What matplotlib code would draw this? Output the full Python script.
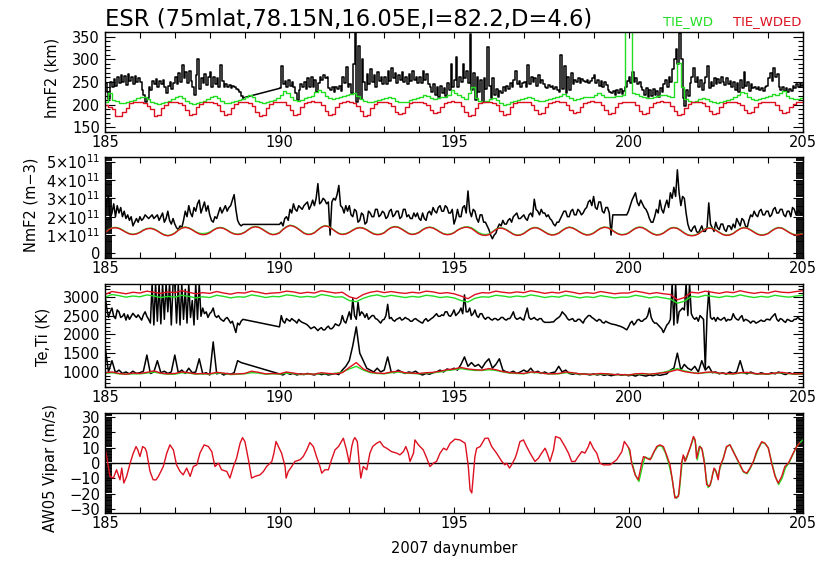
import numpy as np
import matplotlib
matplotlib.use("Agg")
import matplotlib.pyplot as plt
from matplotlib.ticker import MultipleLocator, FuncFormatter

plt.rcParams["font.family"] = ["DejaVu Sans"]
plt.rcParams["mathtext.fontset"] = "dejavusans"

RED = "#dd1020"
GREEN = "#22dd22"

# ---------------------------------------------------------------- time grids
# observations: two blocks with a data gap between the end of day 188 and day 190
fine_day_a = np.round(np.arange(185.0, 188.951, 0.05), 2)
fine_day_b = np.round(np.arange(190.0, 205.001, 0.05), 2)
ob_day_a = np.round(np.arange(185.0, 188.91, 0.1), 1)
ob_day_b = np.round(np.arange(190.0, 205.01, 0.1), 1)
# model runs (continuous)
mod_day = np.round(np.arange(185.0, 205.01, 0.1), 1)
mod_day_t = np.round(np.arange(185.0, 205.01, 0.2), 1)

# ---------------------------------------------------------------- hmF2 (km)
hmf2_obs_a = [
    248, 228, 212, 250, 238, 256, 242, 262, 248, 266, 250, 264, 244, 268, 252, 262, 246, 264, 250, 258,
    250, 232, 222, 205, 215, 240, 232, 252, 245, 256, 240, 252, 246, 255, 238, 226, 242, 250, 235, 248,
    262, 245, 270, 250, 288, 258, 272, 248, 275, 252, 240, 222, 265, 300, 235, 258, 248, 268, 244, 262,
    272, 240, 262, 245, 258, 238, 288, 252, 240, 246, 238, 244, 236, 242, 240, 235, 232, 228, 220, 215,
]
hmf2_obs_b = [
    236, 285, 245, 252, 240, 255, 242, 250, 238, 225, 210, 232, 245, 240, 250, 235, 258, 240, 262, 238,
    255, 228, 248, 262, 255, 265, 258, 262, 236, 232, 240, 228, 238, 235, 242, 230, 262, 248, 282, 240,
    245, 225, 290, 360, 205, 330, 212, 300, 250, 232, 268, 245, 278, 250, 265, 240, 272, 252, 262, 245,
    262, 245, 275, 252, 280, 258, 270, 248, 265, 255, 272, 250, 262, 245, 268, 252, 275, 255, 262, 248,
    262, 248, 275, 255, 268, 245, 240, 228, 245, 222, 238, 218, 242, 225, 236, 220, 248, 232, 290, 240,
    255, 305, 240, 262, 250, 290, 258, 275, 248, 355, 232, 270, 210, 262, 228, 255, 205, 258, 235, 328,
    242, 215, 258, 222, 235, 218, 230, 225, 238, 230, 242, 235, 248, 240, 255, 275, 245, 252, 240, 248,
    250, 240, 288, 245, 262, 250, 258, 242, 265, 248, 255, 245, 240, 236, 244, 238, 242, 235, 240, 232,
    228, 310, 235, 285, 225, 262, 232, 270, 245, 255, 250, 258, 248, 256, 252, 250, 255, 248, 252, 258,
    265, 248, 255, 242, 252, 238, 250, 244, 232, 228, 225, 230, 222, 232, 226, 234, 224, 230, 238, 252,
    262, 248, 272, 250, 258, 245, 250, 240, 232, 222, 236, 218, 232, 220, 234, 222, 230, 218, 236, 228,
    245, 255, 240, 262, 250, 278, 300, 322, 290, 357, 300, 215, 198, 232, 220, 248, 262, 280, 250, 262,
    240, 255, 232, 248, 262, 285, 236, 250, 242, 258, 245, 256, 248, 262, 250, 244, 258, 246, 252, 240,
    250, 232, 248, 228, 255, 236, 272, 242, 250, 230, 245, 236, 238, 234, 240, 232, 236, 230, 238, 242,
    258, 270, 252, 280, 262, 268, 238, 232, 240, 230, 236, 228, 234, 230, 242, 236, 245, 238, 248, 242,
    245,
]
hmf2_wd = [
    206, 225, 210, 208, 204, 203, 205, 208, 210, 214,
    218, 216, 212, 206, 203, 202, 204, 207, 209, 212,
    216, 219, 214, 208, 204, 202, 204, 207, 209, 212,
    216, 220, 215, 208, 204, 203, 205, 208, 210, 213,
    217, 221, 216, 209, 205, 204, 206, 209, 211, 215,
    222, 230, 226, 216, 210, 208, 210, 214, 216, 220,
    228, 233, 228, 220, 214, 212, 214, 218, 220, 222,
    224, 226, 220, 212, 208, 206, 207, 209, 210, 212,
    214, 218, 214, 209, 206, 205, 207, 210, 212, 215,
    218, 222, 219, 214, 212, 214, 216, 218, 222, 232,
    226, 222, 216, 212, 225, 240, 214, 208, 207, 209,
    212, 214, 210, 203, 200, 202, 205, 208, 210, 212,
    214, 216, 214, 210, 208, 209, 211, 213, 214, 216,
    220, 224, 220, 214, 211, 212, 214, 216, 217, 218,
    222, 226, 222, 218, 216, 217, 219, 220, 222, 365,
    365, 226, 224, 220, 216, 214, 215, 217, 219, 221,
    222, 220, 216, 250, 292, 240, 212, 208, 207, 209,
    212, 215, 212, 208, 205, 204, 206, 209, 211, 213,
    216, 222, 228, 226, 218, 212, 211, 213, 215, 218,
    220, 224, 222, 226, 230, 220, 214, 212, 213, 215,
    216,
]
hmf2_wded = [
    200, 196, 190, 176, 175, 185, 193, 203, 205, 206,
    205, 203, 198, 190, 176, 178, 192, 200, 205, 207,
    206, 204, 200, 188, 178, 180, 194, 202, 206, 207,
    205, 204, 199, 186, 177, 180, 193, 201, 205, 206,
    206, 204, 198, 185, 176, 178, 192, 202, 206, 207,
    207, 205, 200, 188, 178, 180, 195, 203, 207, 208,
    207, 205, 199, 187, 177, 179, 194, 203, 206, 208,
    206, 204, 198, 186, 176, 178, 193, 202, 205, 207,
    206, 203, 197, 185, 180, 182, 194, 203, 206, 207,
    206, 204, 199, 188, 181, 183, 195, 204, 207, 208,
    207, 205, 198, 185, 175, 178, 193, 203, 206, 207,
    206, 204, 199, 187, 178, 180, 194, 203, 206, 207,
    206, 205, 200, 189, 180, 182, 195, 204, 207, 208,
    207, 205, 200, 188, 181, 183, 195, 204, 207, 208,
    207, 205, 199, 188, 180, 182, 194, 203, 206, 207,
    207, 205, 199, 187, 180, 182, 195, 204, 207, 208,
    207, 205, 198, 186, 178, 180, 193, 202, 206, 207,
    206, 204, 198, 187, 180, 182, 194, 203, 206, 207,
    206, 204, 199, 188, 181, 183, 195, 203, 206, 207,
    206, 205, 199, 188, 181, 183, 194, 202, 205, 206,
    206,
]

# ---------------------------------------------------------------- NmF2 (1e11 m^-3)
nmf2_obs_a = [
    2.3, 2.9, 3.1, 1.9, 2.2, 2.7, 2.0, 2.6, 2.2, 2.5, 2.0, 2.3, 1.9, 2.1, 1.8, 2.0, 1.5, 1.7, 1.9, 1.7,
    2.0, 1.8, 1.9, 2.1, 2.0, 1.9, 2.0, 2.1, 1.9, 2.0, 2.1, 1.8, 2.0, 2.2, 1.7, 1.9, 2.3, 1.8, 1.6, 1.9,
    1.6, 1.4, 1.3, 1.5, 1.4, 1.8, 2.3, 2.0, 2.6, 2.2, 2.0, 2.5, 2.3, 2.7, 2.9, 2.2, 2.5, 2.8, 2.3, 2.6,
    2.1, 1.8, 1.7, 2.0, 1.9, 2.2, 2.5, 2.2, 2.4, 2.6, 2.3, 2.5, 2.6, 2.9, 3.2, 2.4, 1.8, 1.6, 1.5, 1.58,
]
nmf2_obs_b = [
    1.58, 1.7, 1.5, 1.9, 2.0, 1.8, 2.4, 2.2, 2.7, 2.4, 2.3, 2.6, 2.5, 2.4, 2.6, 2.7, 2.8, 2.4, 2.6, 2.9,
    2.6, 3.0, 3.8, 2.7, 2.8, 3.0, 2.9, 2.7, 2.8, 1.0, 2.8, 3.0, 2.9, 3.2, 3.7, 2.6, 2.5, 2.2, 2.6, 2.3,
    2.6, 2.1, 2.0, 2.4, 2.3, 1.7, 1.8, 2.2, 2.1, 1.6, 1.7, 2.3, 2.2, 2.0, 2.0, 2.4, 2.4, 2.0, 2.1, 2.3,
    2.2, 1.9, 2.0, 2.3, 2.4, 2.0, 2.1, 2.3, 2.3, 1.9, 2.0, 2.4, 2.4, 2.0, 2.1, 1.9, 1.9, 2.2, 2.0, 2.2,
    1.9, 1.8, 2.2, 1.9, 1.8, 2.2, 2.3, 2.1, 2.5, 2.3, 2.2, 2.5, 2.6, 2.3, 2.3, 2.6, 2.5, 2.2, 2.2, 2.4,
    1.6, 1.9, 2.4, 2.0, 2.0, 2.5, 2.6, 2.2, 3.4, 2.3, 2.0, 2.4, 2.3, 1.9, 1.7, 2.1, 2.1, 1.7, 1.7, 1.5,
    1.3, 1.0, 0.8, 1.0, 1.1, 1.4, 1.6, 1.5, 1.8, 1.6, 1.6, 1.8, 1.9, 1.7, 2.0, 2.1, 2.2, 1.9, 1.9, 2.0,
    2.1, 1.9, 1.8, 2.1, 2.2, 2.0, 2.95, 2.4, 2.3, 2.1, 2.4, 2.2, 2.2, 2.0, 2.1, 1.9, 1.8, 1.6, 1.5, 1.7,
    1.7, 1.9, 2.1, 2.3, 2.3, 2.0, 2.0, 2.3, 2.4, 2.1, 2.1, 2.4, 2.3, 2.1, 2.2, 2.4, 2.5, 2.8, 2.9, 2.6,
    3.1, 2.5, 2.4, 2.8, 2.8, 2.3, 2.2, 2.5, 2.5, 2.2, 1.0, 2.1, 2.1, 2.1, 2.1, 2.1, 2.1, 2.1, 2.1, 2.1,
    2.3, 2.6, 2.9, 3.1, 3.3, 2.8, 2.6, 2.9, 2.7, 2.5, 2.4, 2.2, 1.9, 1.7, 1.7, 2.0, 2.4, 2.2, 2.9, 2.4,
    2.2, 2.6, 2.9, 2.5, 3.3, 3.0, 3.6, 3.1, 4.55, 3.3, 2.6, 3.1, 3.0, 2.2, 1.6, 1.3, 1.2, 1.4, 1.5, 1.2,
    1.1, 1.3, 1.5, 1.2, 1.2, 1.4, 2.75, 1.6, 1.4, 1.2, 1.7, 1.4, 1.3, 1.6, 1.6, 1.3, 1.2, 1.5, 1.5, 1.3,
    1.6, 1.4, 1.9, 1.7, 1.5, 1.9, 1.8, 1.5, 1.4, 1.8, 2.1, 2.0, 2.3, 2.1, 2.0, 2.3, 2.4, 2.1, 2.1, 2.3,
    2.3, 2.0, 2.1, 2.4, 2.5, 2.2, 2.2, 2.4, 2.4, 2.1, 2.0, 2.3, 2.3, 2.0, 2.5, 2.4, 2.1, 2.3, 2.3, 2.1,
    2.2,
]
nmf2_wd = [
    1.14, 1.30, 1.40, 1.42, 1.38, 1.28, 1.17, 1.08, 1.05, 1.08,
    1.16, 1.28, 1.36, 1.38, 1.34, 1.24, 1.12, 1.02, 0.98, 1.02,
    1.12, 1.28, 1.40, 1.44, 1.40, 1.30, 1.18, 1.10, 1.08, 1.10,
    1.16, 1.28, 1.38, 1.42, 1.38, 1.28, 1.16, 1.08, 1.05, 1.08,
    1.16, 1.30, 1.42, 1.47, 1.44, 1.34, 1.22, 1.10, 1.04, 1.06,
    1.14, 1.32, 1.46, 1.54, 1.50, 1.40, 1.26, 1.12, 1.05, 1.06,
    1.14, 1.30, 1.44, 1.52, 1.48, 1.36, 1.22, 1.10, 1.05, 1.08,
    1.16, 1.28, 1.38, 1.42, 1.39, 1.30, 1.18, 1.08, 1.04, 1.06,
    1.14, 1.30, 1.42, 1.47, 1.44, 1.34, 1.22, 1.10, 1.05, 1.08,
    1.16, 1.30, 1.40, 1.44, 1.40, 1.30, 1.18, 1.08, 1.04, 1.06,
    1.14, 1.28, 1.38, 1.44, 1.45, 1.40, 1.28, 1.14, 1.06, 1.03,
    1.06, 1.18, 1.32, 1.40, 1.38, 1.30, 1.18, 1.06, 1.00, 1.02,
    1.10, 1.24, 1.36, 1.42, 1.40, 1.30, 1.18, 1.07, 1.02, 1.04,
    1.12, 1.26, 1.38, 1.44, 1.40, 1.30, 1.18, 1.08, 1.02, 1.04,
    1.12, 1.26, 1.38, 1.44, 1.42, 1.32, 1.19, 1.08, 1.03, 1.05,
    1.12, 1.26, 1.38, 1.44, 1.42, 1.32, 1.19, 1.08, 1.02, 1.04,
    1.12, 1.26, 1.38, 1.42, 1.38, 1.26, 1.12, 1.02, 0.98, 1.00,
    1.08, 1.22, 1.34, 1.40, 1.37, 1.28, 1.16, 1.05, 1.00, 1.02,
    1.10, 1.24, 1.36, 1.42, 1.39, 1.29, 1.17, 1.06, 1.01, 1.03,
    1.10, 1.24, 1.36, 1.42, 1.39, 1.28, 1.16, 1.06, 1.02, 1.04,
    1.08,
]
nmf2_wded = [
    1.12, 1.28, 1.38, 1.40, 1.36, 1.26, 1.15, 1.06, 1.03, 1.06,
    1.14, 1.26, 1.34, 1.36, 1.32, 1.22, 1.10, 1.00, 0.96, 1.00,
    1.10, 1.26, 1.38, 1.42, 1.38, 1.28, 1.16, 1.06, 1.02, 1.04,
    1.12, 1.26, 1.36, 1.40, 1.36, 1.26, 1.14, 1.06, 1.03, 1.06,
    1.14, 1.28, 1.40, 1.45, 1.42, 1.32, 1.20, 1.08, 1.02, 1.04,
    1.12, 1.30, 1.44, 1.52, 1.48, 1.38, 1.24, 1.10, 1.03, 1.04,
    1.12, 1.28, 1.42, 1.50, 1.46, 1.34, 1.20, 1.08, 1.03, 1.06,
    1.14, 1.26, 1.36, 1.40, 1.37, 1.28, 1.16, 1.06, 1.02, 1.04,
    1.12, 1.28, 1.40, 1.45, 1.42, 1.32, 1.20, 1.08, 1.03, 1.06,
    1.14, 1.28, 1.38, 1.42, 1.38, 1.28, 1.16, 1.06, 1.02, 1.04,
    1.12, 1.26, 1.36, 1.42, 1.42, 1.36, 1.22, 1.08, 1.00, 0.98,
    1.02, 1.16, 1.30, 1.38, 1.36, 1.28, 1.16, 1.04, 0.98, 1.00,
    1.08, 1.22, 1.34, 1.40, 1.38, 1.28, 1.16, 1.05, 1.00, 1.02,
    1.10, 1.24, 1.36, 1.42, 1.38, 1.28, 1.16, 1.06, 1.00, 1.02,
    1.10, 1.24, 1.36, 1.42, 1.40, 1.30, 1.17, 1.06, 1.01, 1.03,
    1.10, 1.24, 1.36, 1.42, 1.40, 1.30, 1.17, 1.06, 1.00, 1.02,
    1.10, 1.24, 1.36, 1.40, 1.36, 1.24, 1.10, 1.00, 0.96, 0.98,
    1.06, 1.20, 1.32, 1.38, 1.35, 1.26, 1.14, 1.03, 0.98, 1.00,
    1.08, 1.22, 1.34, 1.40, 1.37, 1.27, 1.15, 1.04, 0.99, 1.01,
    1.08, 1.22, 1.34, 1.40, 1.37, 1.26, 1.14, 1.04, 1.00, 1.02,
    1.06,
]

# ---------------------------------------------------------------- Te, Ti (K)
te_obs_a = [
    3050, 2700, 2450, 2600, 2700, 2480, 2420, 2650, 2600, 2450, 2480, 2550, 2380, 2520, 2400, 2480, 2560, 2500, 2450, 2520,
    2450, 2380, 2520, 2600, 2480, 2400, 2300, 3340, 2250, 3340, 2350, 3340, 2280, 3340, 2400, 3340, 2600, 3340, 2250, 3340,
    3340, 2300, 3340, 2250, 3340, 2400, 3200, 2300, 3340, 2450, 2900, 2250, 3340, 2400, 3340, 2480, 2700, 2550, 2600, 2450,
    2550, 2600, 2700, 2500, 2450, 2500, 2420, 2380, 2350, 2420, 2450, 2380, 2300, 2350, 2200, 2050, 2300, 2250, 2350, 2400,
]
te_obs_b = [
    2200, 2500, 2350, 2300, 2420, 2380, 2350, 2420, 2380, 2350, 2300, 2400, 2350, 2320, 2300, 2280, 2250, 2200, 2150, 2180,
    2200, 2150, 2100, 2150, 2180, 2120, 2120, 2180, 2220, 2150, 2150, 2200, 2280, 2250, 2230, 2300, 2500, 2350, 2300, 2450,
    2600, 2400, 2950, 2500, 2400, 2850, 2500, 2600, 2550, 2450, 2550, 2400, 2450, 2500, 2500, 2420, 2400, 2350, 2300, 2380,
    2400, 2500, 2800, 2420, 2450, 2380, 2350, 2400, 2420, 2450, 2380, 2400, 2450, 2420, 2400, 2350, 2350, 2400, 2420, 2380,
    2350, 2320, 2300, 2380, 2420, 2350, 2380, 2420, 2450, 2500, 2550, 2480, 2480, 2520, 2500, 2600, 2600, 2500, 2480, 2550,
    2650, 2500, 2550, 2600, 2700, 2550, 3050, 2600, 2600, 2700, 2500, 2550, 2650, 2500, 2450, 2550, 2550, 2450, 2400, 2450,
    2450, 2400, 2380, 2420, 2420, 2380, 2400, 2450, 2450, 2400, 2380, 2420, 2420, 2500, 2600, 2450, 2400, 2420, 2450, 2400,
    2380, 2550, 2700, 2450, 2400, 2420, 2450, 2400, 2380, 2420, 2420, 2350, 2320, 2320, 2320, 2320, 2330, 2330, 2380, 2420,
    2450, 2500, 2600, 2550, 2500, 2420, 2380, 2400, 2420, 2350, 2350, 2400, 2400, 2350, 2300, 2400, 2450, 2500, 2500, 2450,
    2420, 2380, 2350, 2400, 2380, 2320, 2300, 2350, 2320, 2300, 2280, 2270, 2260, 2250, 2230, 2220, 2200, 2180, 2150, 2120,
    2200, 2300, 2350, 2250, 2300, 2380, 2400, 2350, 2350, 2400, 2420, 2500, 2700, 2450, 2350, 2300, 2300, 2250, 2200, 2150,
    2050, 2150, 2250, 2300, 2400, 3340, 2250, 3340, 2300, 2600, 2650, 2700, 2650, 3340, 2500, 3340, 2550, 2450, 2400, 2450,
    2350, 2500, 2450, 2400, 1100, 2500, 3150, 2450, 2400, 2450, 2350, 2450, 2400, 2380, 2420, 2450, 2350, 2400, 2380, 2400,
    2550, 2450, 2400, 2380, 2450, 2500, 2350, 2400, 2380, 2350, 2300, 2350, 2350, 2300, 2320, 2350, 2380, 2350, 2350, 2400,
    2400, 2380, 2450, 2500, 2550, 2400, 2350, 2420, 2400, 2350, 2320, 2400, 2380, 2350, 2350, 2400, 2400, 2450, 2420, 2380,
    2380,
]
ti_obs_a = [
    1700, 1000, 1300, 980, 1050, 960, 1000, 950, 1020, 960,
    980, 1020, 1450, 960, 1000, 1300, 980, 1020, 960, 1000,
    1450, 980, 1050, 960, 1100, 980, 1000, 1350, 950, 980,
    920, 1800, 950, 980, 920, 960, 940, 980, 1300, 1250,
]
ti_obs_b = [
    950, 920, 980, 940, 960, 920, 950, 930, 960, 940,
    920, 960, 930, 950, 920, 940, 960, 930, 1050, 1150,
    1300, 1700, 2200, 1500, 1300, 1100, 1050, 1000, 1100, 1000,
    1050, 1400, 1000, 980, 1050, 1000, 960, 1000, 980, 1020,
    950, 920, 960, 940, 980, 1000, 1050, 1000, 1080, 1050,
    1100, 1050, 1200, 1400, 1150, 1250, 1150, 1200, 1100, 1250,
    1350, 1100, 1200, 1350, 1050, 1000, 980, 1020, 960, 1000,
    1050, 1000, 1100, 980, 1020, 960, 1000, 950, 980, 1000,
    1150, 1000, 1050, 960, 940, 960, 930, 950, 940, 920,
    950, 920, 940, 910, 930, 900, 920, 940, 910, 930,
    900, 920, 890, 930, 910, 890, 920, 900, 930, 910,
    930, 950, 1050, 1100, 1500, 1050, 1200, 1100, 1050, 1150,
    1000, 1300, 1050, 1150, 980, 1000, 950, 980, 940, 1000,
    960, 1000, 1300, 980, 950, 1000, 960, 940, 980, 950,
    940, 980, 950, 1000, 960, 930, 980, 950, 940, 960,
    950,
]
te_wd = [
    2990, 3060, 3030, 2990, 3020, 3000, 3050, 3020, 2980, 3010,
    2990, 3040, 3010, 2970, 3000, 2980, 3040, 3010, 2970, 3000,
    2990, 3050, 3020, 2980, 3010, 3000, 3050, 3030, 2990, 3010,
    2990, 3060, 3030, 2990, 3000, 2900, 2870, 2960, 3020, 3050,
    3000, 3040, 3010, 2980, 3010, 2990, 3040, 3020, 2980, 3000,
    2970, 2900, 2860, 2960, 3000, 2990, 3040, 3020, 2990, 3020,
    3000, 3050, 3020, 2980, 3010, 2990, 3040, 3010, 2970, 3000,
    2980, 3030, 3000, 2970, 2990, 2990, 3040, 3010, 2970, 3000,
    2970, 2940, 2830, 2880, 3010, 2990, 3040, 3010, 2980, 3020,
    3000, 3050, 3010, 2980, 3010, 2990, 3040, 3010, 2990, 3020,
    3040,
]
te_wded = [
    3060, 3140, 3110, 3080, 3120, 3100, 3150, 3120, 3090, 3130,
    3110, 3160, 3120, 3080, 3110, 3090, 3140, 3100, 3070, 3110,
    3100, 3150, 3120, 3080, 3100, 3110, 3150, 3130, 3090, 3120,
    3100, 3160, 3130, 3100, 3120, 3000, 2950, 3060, 3120, 3150,
    3110, 3140, 3110, 3090, 3120, 3100, 3150, 3130, 3090, 3110,
    3080, 3020, 2950, 3060, 3110, 3100, 3150, 3120, 3100, 3130,
    3110, 3160, 3130, 3090, 3120, 3100, 3150, 3120, 3080, 3110,
    3090, 3140, 3110, 3080, 3100, 3100, 3150, 3120, 3080, 3110,
    3080, 3060, 2920, 2980, 3120, 3100, 3150, 3120, 3090, 3130,
    3110, 3160, 3120, 3090, 3120, 3100, 3150, 3120, 3110, 3140,
    3160,
]
ti_wd = [
    960, 980, 950, 940, 950, 950, 970, 1000, 960, 940,
    940, 980, 970, 940, 950, 940, 970, 960, 930, 940,
    950, 980, 970, 940, 950, 940, 970, 960, 930, 940,
    940, 960, 950, 960, 1000, 1080, 1150, 1050, 980, 960,
    950, 980, 1000, 970, 960, 950, 970, 980, 1000, 1040,
    1060, 1090, 1060, 1040, 1040, 1060, 1040, 1000, 970, 960,
    950, 990, 980, 960, 945, 950, 980, 970, 945, 935,
    930, 950, 945, 930, 925, 920, 940, 950, 940, 955,
    990, 1040, 1090, 1030, 990, 960, 980, 990, 965, 955,
    945, 970, 980, 955, 945, 945, 965, 980, 955, 945,
    945,
]
ti_wded = [
    980, 1000, 960, 940, 970, 960, 990, 1030, 970, 950,
    960, 1000, 980, 950, 960, 950, 990, 970, 940, 950,
    960, 1020, 990, 950, 960, 950, 1000, 970, 940, 950,
    940, 980, 960, 950, 980, 1120, 1250, 1080, 1000, 970,
    960, 1000, 1020, 980, 970, 960, 980, 990, 1020, 1060,
    1080, 1120, 1080, 1060, 1050, 1090, 1060, 1010, 980, 970,
    960, 1000, 990, 960, 950, 960, 1000, 980, 950, 940,
    940, 960, 950, 930, 930, 920, 950, 960, 940, 960,
    980, 1010, 1060, 1010, 980, 960, 990, 1000, 970, 960,
    950, 980, 990, 960, 950, 950, 970, 990, 960, 950,
    950,
]

# ---------------------------------------------------------------- Vipar (m/s)
vipar_wded_day = [
    185.00, 185.05, 185.14, 185.24, 185.33, 185.43, 185.48, 185.54, 185.62, 185.72,
    185.81, 185.89, 185.94, 186.00, 186.08, 186.15, 186.19, 186.29, 186.38, 186.46,
    186.53, 186.67, 186.77, 186.86, 186.96, 187.05, 187.15, 187.24, 187.34, 187.44,
    187.53, 187.63, 187.72, 187.84, 187.96, 188.06, 188.10, 188.15, 188.25, 188.34,
    188.49, 188.58, 188.68, 188.77, 188.87, 188.94, 189.01, 189.11, 189.20, 189.30,
    189.44, 189.54, 189.63, 189.78, 189.84, 189.90, 189.97, 190.06, 190.16, 190.19,
    190.25, 190.35, 190.44, 190.59, 190.68, 190.78, 190.87, 190.97, 191.06, 191.16,
    191.21, 191.30, 191.40, 191.49, 191.59, 191.69, 191.83, 191.92, 192.00, 192.07,
    192.12, 192.16, 192.23, 192.29, 192.33, 192.40, 192.50, 192.59, 192.67, 192.78,
    192.88, 192.98, 193.07, 193.21, 193.36, 193.45, 193.55, 193.62, 193.69, 193.74,
    193.84, 193.88, 193.98, 194.12, 194.22, 194.31, 194.41, 194.50, 194.60, 194.70,
    194.79, 194.89, 195.03, 195.17, 195.32, 195.36, 195.41, 195.46, 195.51, 195.55,
    195.60, 195.65, 195.75, 195.89, 195.98, 196.08, 196.22, 196.37, 196.46, 196.51,
    196.59, 196.65, 196.75, 196.80, 196.89, 196.99, 197.08, 197.18, 197.32, 197.42,
    197.51, 197.61, 197.67, 197.75, 197.85, 197.91, 198.04, 198.18, 198.28, 198.37,
    198.47, 198.56, 198.66, 198.75, 198.85, 198.90, 198.99, 199.09, 199.18, 199.28,
    199.47, 199.66, 199.81, 199.88, 199.95, 200.04, 200.09, 200.19, 200.28, 200.38,
    200.43, 200.52, 200.62, 200.71, 200.81, 200.90, 201.00, 201.09, 201.19, 201.27,
    201.33, 201.43, 201.48, 201.52, 201.57, 201.62, 201.69, 201.76, 201.86, 201.91,
    201.95, 202.03, 202.10, 202.14, 202.19, 202.24, 202.32, 202.38, 202.45, 202.51,
    202.57, 202.62, 202.72, 202.81, 202.91, 203.00, 203.10, 203.20, 203.29, 203.39,
    203.48, 203.58, 203.67, 203.82, 203.91, 204.01, 204.10, 204.20, 204.29, 204.39,
    204.48, 204.58, 204.72, 204.82, 204.90,
]
vipar_wded = [
    9.6, 4.2, -8.7, -9.8, -4.4, -10.9, -3.3, -13.0, -8.7, -0.1,
    6.4, 10.7, 8.5, 4.2, 10.7, 9.6, 7.4, -5.5, -10.9, -11.0,
    -8.7, -2.3, 6.4, 11.8, 8.5, -1.2, -5.5, -7.7, -3.3, -8.7,
    -2.3, -1.2, 6.4, 11.8, 10.7, 7.4, 3.1, -2.3, -0.1, -4.4,
    -5.5, -9.8, -2.3, 3.1, 12.8, 16.5, 13.9, 2.1, -9.8, -8.7,
    -7.7, -5.5, -2.3, 1.0, 6.4, 14.0, 10.7, 6.4, -2.3, -9.8,
    -5.5, -2.3, 1.0, 2.1, 4.2, 8.5, 13.3, 10.7, 4.2, -2.3,
    -6.6, -4.4, -4.4, 2.1, 8.5, 10.7, 16.1, 8.5, -0.1, 10.7,
    15.0, 16.5, 13.9, -1.2, -9.8, -2.3, -4.4, 6.4, 10.7, 12.8,
    14.0, 10.7, 9.6, 7.4, 6.4, 5.3, 7.4, 10.7, 6.4, 1.0,
    6.4, 15.0, 11.8, 8.5, 3.1, -2.3, -0.1, 1.0, 6.4, 9.6,
    8.5, 12.8, 15.5, 15.0, 12.8, 6.4, -2.3, -17.4, -19.5, -8.7,
    4.2, 9.6, 10.7, 16.1, 16.1, 10.7, 6.4, 1.0, -1.2, -0.1,
    -3.3, -1.2, 3.1, 6.4, 13.9, 15.0, 10.7, 6.4, 1.0, 3.1,
    6.4, 9.6, 6.4, 1.0, 8.5, 17.2, 16.1, 10.7, 6.4, 1.0,
    1.0, 4.2, 7.4, 6.4, 10.7, 13.9, 9.6, 6.4, -0.1, -1.2,
    -1.2, 2.1, 7.4, 14.0, 11.8, 8.5, -0.1, -7.7, -10.9, -0.1,
    4.2, 3.1, 2.1, 6.4, 10.7, 11.8, 10.7, 5.3, -1.2, -13.1,
    -22.8, -21.7, -10.9, -0.1, 5.3, 1.0, 5.3, 9.6, 17.2, 15.0,
    3.1, 10.7, 9.6, 4.2, -2.3, -14.1, -15.2, -10.9, -3.3, -5.5,
    -10.9, -2.3, 3.1, 10.7, 11.8, 7.4, 3.1, -1.2, -5.5, -6.6,
    -3.3, 1.0, 7.4, 13.9, 12.8, 9.6, -0.1, -8.7, -13.1, -8.7,
    -2.3, -0.1, 6.4, 10.7, 13.0,
]
vipar_wd_day = [
    200.00, 200.08, 200.20, 200.30, 200.40, 200.47, 200.55, 200.65, 200.75, 200.85,
    200.95, 201.05, 201.15, 201.25, 201.32, 201.38, 201.45, 201.50, 201.55, 201.60,
    201.65, 201.72, 201.80, 201.87, 201.93, 201.97, 202.05, 202.12, 202.17, 202.22,
    202.28, 202.35, 202.42, 202.48, 202.55, 202.60, 202.70, 202.80, 202.90, 203.00,
    203.10, 203.20, 203.30, 203.40, 203.50, 203.60, 203.70, 203.80, 203.90, 204.00,
    204.10, 204.20, 204.30, 204.40, 204.50, 204.60, 204.70, 204.80, 204.90, 205.00,
]
vipar_wd = [
    10, 2, -8, -12, -2, 4, 3, 3, 8, 11,
    11, 7, 0, -10, -21, -23, -20, -8, 3, 4,
    2, 7, 12, 17, 12, 2, 11, 8, 2, -9,
    -16, -14, -6, -4, -9, -5, 2, 10, 12, 8,
    3, -2, -6, -7, -3, 2, 8, 13, 13, 10,
    1, -8, -14, -10, -3, 0, 5, 10, 13, 15,
]

# ---------------------------------------------------------------- figure
fig = plt.figure(figsize=(8.31, 5.62), dpi=100)
W, H = 831.0, 562.0


def add_panel(top_px, bot_px):
    return fig.add_axes([105 / W, 1 - bot_px / H, 698 / W, (bot_px - top_px) / H])


ax1 = add_panel(32, 132)
ax2 = add_panel(157, 258)
ax3 = add_panel(284, 387)
ax4 = add_panel(413, 513)

LW = 1.0
LWK = 1.1

# hmF2: stepped observation blocks joined straight across the data gap
ax1.plot(fine_day_a, hmf2_obs_a, color="black", lw=LWK, drawstyle="steps-post")
ax1.plot([fine_day_a[-1], fine_day_b[0]], [hmf2_obs_a[-1], hmf2_obs_b[0]], color="black", lw=LWK)
ax1.plot(fine_day_b, hmf2_obs_b, color="black", lw=LWK, drawstyle="steps-post")
ax1.plot(mod_day, hmf2_wd, color=GREEN, lw=LW, drawstyle="steps-post")
ax1.plot(mod_day, hmf2_wded, color=RED, lw=LW, drawstyle="steps-post")
ax1.set_ylim(140, 360)
ax1.yaxis.set_major_locator(MultipleLocator(50))
ax1.yaxis.set_minor_locator(MultipleLocator(10))

# NmF2
fine_days = np.concatenate([fine_day_a, fine_day_b])
ax2.plot(fine_days, nmf2_obs_a + nmf2_obs_b, color="black", lw=LWK)
ax2.plot(mod_day, nmf2_wd, color=GREEN, lw=LW)
ax2.plot(mod_day, nmf2_wded, color=RED, lw=LW)
ax2.set_ylim(-0.245, 5.245)
ax2.yaxis.set_major_locator(MultipleLocator(1))
ax2.yaxis.set_minor_locator(MultipleLocator(0.1))


def nm_label(v, pos):
    n = int(round(v))
    if n == 0:
        return "0"
    return r"$%d{\times}10^{11}$" % n


ax2.yaxis.set_major_formatter(FuncFormatter(nm_label))

# Te, Ti
ob_days = np.concatenate([ob_day_a, ob_day_b])
ax3.plot(fine_days, te_obs_a + te_obs_b, color="black", lw=LWK)
ax3.plot(ob_days, ti_obs_a + ti_obs_b, color="black", lw=LWK)
ax3.plot(mod_day_t, te_wd, color=GREEN, lw=LW)
ax3.plot(mod_day_t, ti_wd, color=GREEN, lw=LW)
ax3.plot(mod_day_t, te_wded, color=RED, lw=LW)
ax3.plot(mod_day_t, ti_wded, color=RED, lw=LW)
ax3.set_ylim(600, 3340)
ax3.yaxis.set_major_locator(MultipleLocator(500))
ax3.yaxis.set_minor_locator(MultipleLocator(100))

# Vipar
ax4.axhline(0, color="black", lw=1.0)
ax4.plot(vipar_wd_day, vipar_wd, color=GREEN, lw=LW)
ax4.plot(vipar_wded_day, vipar_wded, color=RED, lw=LW)
ax4.set_ylim(-32.5, 32.5)
ax4.yaxis.set_major_locator(MultipleLocator(10))
ax4.yaxis.set_minor_locator(MultipleLocator(1))

for ax in (ax1, ax2, ax3, ax4):
    ax.set_xlim(185, 205)
    ax.xaxis.set_major_locator(MultipleLocator(5))
    ax.xaxis.set_minor_locator(MultipleLocator(1))
    ax.tick_params(which="both", direction="in", top=True, right=True,
                   labelsize=10.5, width=0.8, color="black")
    ax.tick_params(axis="x", which="both", length=4, pad=2.5)
    ax.tick_params(axis="y", which="major", length=7.5, pad=3.5)
    ax.tick_params(axis="y", which="minor", length=3.5)
    for s in ax.spines.values():
        s.set_linewidth(1.0)
        s.set_color("black")

# densely ticked value axes
for ax in (ax2, ax4):
    ax.tick_params(axis="y", which="minor", length=5, width=1.3)

# axis titles
ylab = dict(rotation=90, ha="center", va="center", fontsize=10.5)
fig.text(52 / W, 1 - 78 / H, "hmF2 (km)", **ylab)
fig.text(31 / W, 1 - 205 / H, "NmF2 (m\u22123)", **ylab)
fig.text(43 / W, 1 - 337 / H, "Te,Ti (K)", **ylab)
fig.text(50 / W, 1 - 468 / H, "AW05 Vipar (m/s)", **ylab)
fig.text(454 / W, 1 - 553 / H, "2007 daynumber", ha="center", va="baseline", fontsize=10.5)

fig.text(105 / W, 1 - 26 / H, "ESR (75mlat,78.15N,16.05E,I=82.2,D=4.6)",
         ha="left", va="baseline", fontsize=16.3)
fig.text(663 / W, 1 - 25 / H, "TIE_WD", color=GREEN, ha="left", va="baseline", fontsize=9.5)
fig.text(733 / W, 1 - 25 / H, "TIE_WDED", color=RED, ha="left", va="baseline", fontsize=9.5)

fig.savefig("out.png", dpi=100, facecolor="white")
